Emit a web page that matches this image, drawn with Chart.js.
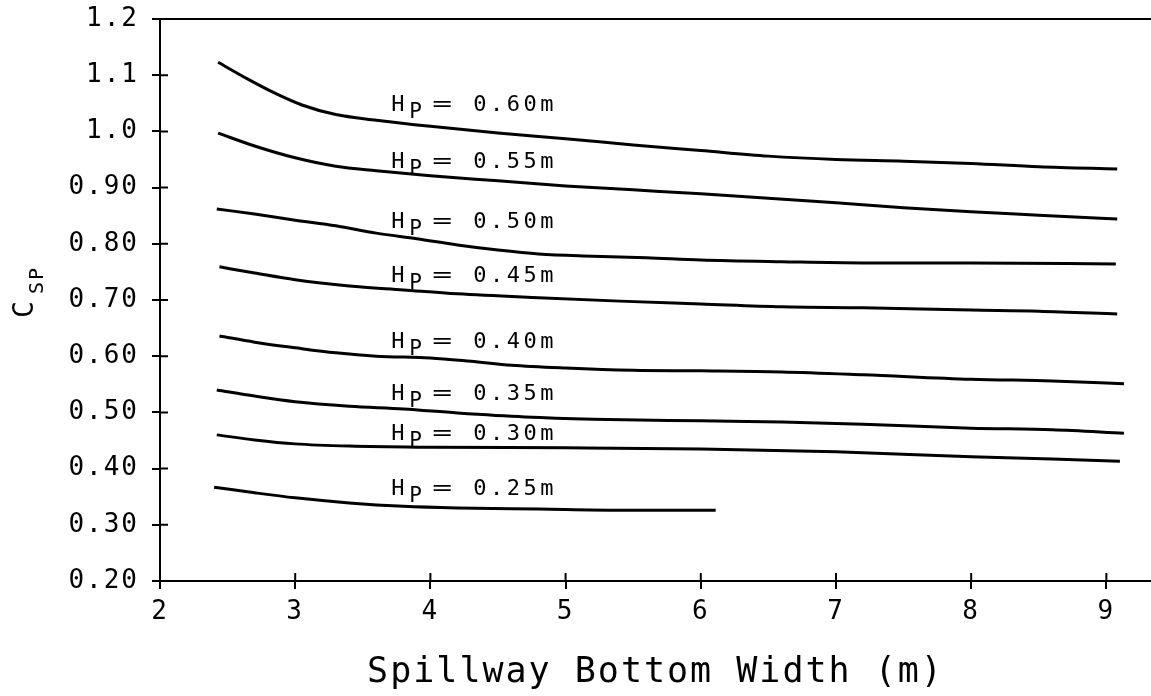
<!DOCTYPE html>
<html lang="en">
<head>
  <meta charset="UTF-8">
  <title>Csp vs Spillway Bottom Width</title>
  <script src="https://cdn.jsdelivr.net/npm/chart.js"></script>
  <style>
    body { margin: 0; background: #fff; }
    #wrap { width: 1151px; height: 696px; }
  </style>
</head>
<body>
  <div id="wrap"><canvas id="chart"></canvas></div>

  <script>
    // head values for each curve (m)
    const heads = ['0.60', '0.55', '0.50', '0.45', '0.40', '0.35', '0.30', '0.25'];

    // spillway bottom width (m) and Csp
    const w60 = [2.43, 2.65, 2.85, 3.05, 3.3, 3.6, 4.0, 4.5, 5.0, 5.5, 6.0, 6.5, 7.0, 7.5, 8.0, 8.5, 9.08];
    const c60 = [1.123, 1.093, 1.068, 1.047, 1.030, 1.020, 1.009, 0.997, 0.987, 0.976, 0.966, 0.956, 0.950, 0.947, 0.943, 0.937, 0.933];

    const w55 = [2.43, 2.7, 3.0, 3.3, 3.6, 4.0, 4.5, 5.0, 5.5, 6.0, 6.5, 7.0, 7.5, 8.0, 8.5, 9.08];
    const c55 = [0.997, 0.974, 0.953, 0.938, 0.930, 0.921, 0.912, 0.903, 0.896, 0.889, 0.881, 0.873, 0.864, 0.857, 0.851, 0.844];

    const w50 = [2.42, 2.7, 3.0, 3.3, 3.6, 3.9, 4.2, 4.5, 4.8, 5.2, 5.6, 6.0, 6.6, 7.2, 8.0, 9.07];
    const c50 = [0.862, 0.853, 0.842, 0.832, 0.819, 0.809, 0.798, 0.789, 0.782, 0.778, 0.775, 0.771, 0.768, 0.766, 0.766, 0.764];

    const w45 = [2.44, 2.7, 3.0, 3.4, 3.8, 4.2, 4.8, 5.4, 6.0, 6.6, 7.2, 8.0, 8.5, 9.08];
    const c45 = [0.759, 0.748, 0.736, 0.725, 0.718, 0.711, 0.704, 0.698, 0.693, 0.688, 0.686, 0.682, 0.680, 0.675];

    const w40 = [2.44, 2.7, 3.0, 3.3, 3.6, 4.0, 4.3, 4.6, 5.0, 5.5, 6.0, 6.6, 7.2, 8.0, 8.6, 9.13];
    const c40 = [0.636, 0.625, 0.615, 0.606, 0.600, 0.597, 0.591, 0.584, 0.579, 0.575, 0.574, 0.572, 0.567, 0.559, 0.556, 0.551];

    const w35 = [2.42, 2.7, 3.0, 3.4, 3.8, 4.2, 4.7, 5.2, 6.0, 6.6, 7.2, 8.0, 8.6, 9.13];
    const c35 = [0.540, 0.529, 0.519, 0.511, 0.506, 0.499, 0.492, 0.488, 0.485, 0.483, 0.479, 0.472, 0.469, 0.463];

    const w30 = [2.42, 2.7, 3.0, 3.4, 4.0, 5.0, 6.0, 7.0, 8.0, 8.6, 9.10];
    const c30 = [0.460, 0.451, 0.444, 0.440, 0.438, 0.437, 0.435, 0.430, 0.421, 0.417, 0.413];

    const w25 = [2.40, 2.7, 3.0, 3.4, 3.8, 4.2, 4.8, 5.4, 6.11];
    const c25 = [0.367, 0.357, 0.348, 0.339, 0.333, 0.330, 0.328, 0.326, 0.326];

    const xTicks = [2, 3, 4, 5, 6, 7, 8, 9];
    const yTicks = [0.2, 0.3, 0.4, 0.5, 0.6, 0.7, 0.8, 0.9, 1.0, 1.1, 1.2];

    // where the "Hp = ..." labels sit (data units, baseline)
    const labelX = 3.71;
    const labelY = [1.036, 0.935, 0.828, 0.732, 0.615, 0.522, 0.451, 0.353];

    const widths = [w60, w55, w50, w45, w40, w35, w30, w25];
    const csps = [c60, c55, c50, c45, c40, c35, c30, c25];

    const FONT = '"DejaVu Sans Mono", monospace';

    // crossing ticks, curve labels, rotated y title with subscript
    const decor = {
      id: 'decor',
      beforeUpdate(chart) { chart.ctx.letterSpacing = '2px'; },
      beforeDraw(chart) { chart.ctx.letterSpacing = '2px'; },
      afterDraw(chart) {
        const { ctx, chartArea: a } = chart;
        const x = chart.scales.x, y = chart.scales.y;
        ctx.save();
        ctx.strokeStyle = '#000';
        ctx.lineWidth = 2;
        ctx.beginPath();
        yTicks.forEach(v => {
          const py = y.getPixelForValue(v);
          ctx.moveTo(a.left, py); ctx.lineTo(a.left + 8, py);
        });
        xTicks.forEach(v => {
          const px = x.getPixelForValue(v);
          ctx.moveTo(px, a.bottom); ctx.lineTo(px, a.bottom - 8);
        });
        ctx.stroke();

        ctx.fillStyle = '#000';
        ctx.textAlign = 'left';
        ctx.textBaseline = 'alphabetic';
        heads.forEach((h, i) => {
          const px = x.getPixelForValue(labelX);
          const py = y.getPixelForValue(labelY[i]);
          ctx.letterSpacing = '0px';
          ctx.font = '22px ' + FONT;
          ctx.fillText('H', px, py);
          ctx.font = '21px ' + FONT;
          ctx.fillText('P', px + 18, py + 7);
          ctx.save();
          ctx.translate(px + 41, py);
          ctx.scale(1.5, 1);
          ctx.font = '22px ' + FONT;
          ctx.fillText('=', 0, 0);
          ctx.restore();
          ctx.letterSpacing = '3.5px';
          ctx.font = '22px ' + FONT;
          ctx.fillText(h + 'm', px + 82, py);
        });

        ctx.translate(33, 318);
        ctx.rotate(-Math.PI / 2);
        ctx.letterSpacing = '0px';
        ctx.font = '28px ' + FONT;
        ctx.fillText('C', 0, 0);
        ctx.font = '20px ' + FONT;
        ctx.letterSpacing = '2px';
        ctx.fillText('SP', 24, 10);
        ctx.restore();
      }
    };

    new Chart(document.getElementById('chart'), {
      type: 'line',
      data: {
        datasets: heads.map((h, i) => ({
          label: 'Hp = ' + h + 'm',
          data: widths[i].map((w, j) => ({ x: w, y: csps[i][j] })),
          borderColor: '#000',
          borderWidth: 3,
          pointRadius: 0,
          fill: false,
          cubicInterpolationMode: 'monotone'
        }))
      },
      options: {
        responsive: true,
        maintainAspectRatio: false,
        animation: false,
        layout: { padding: { top: 19, right: 0, left: 0, bottom: 0 } },
        plugins: { legend: { display: false }, tooltip: { enabled: false } },
        scales: {
          x: {
            type: 'linear',
            min: 2,
            max: 9.33,
            afterFit: s => { s.height = 115; s.paddingLeft = 0; s.paddingRight = 0; },
            afterBuildTicks: s => { s.ticks = xTicks.map(v => ({ value: v })); },
            border: { display: true, color: '#000', width: 2 },
            grid: { display: true, drawOnChartArea: false, color: '#000', tickColor: '#000', tickLength: 8, lineWidth: 2 },
            ticks: { autoSkip: false, maxRotation: 0, padding: 8, color: '#000', font: { family: FONT, size: 26 }, callback: v => String(v) },
            title: { display: true, text: 'Spillway Bottom Width (m)', color: '#000', font: { family: FONT, size: 35, lineHeight: 1 }, padding: { top: 0, bottom: 6 } }
          },
          y: {
            min: 0.2,
            max: 1.2,
            afterFit: s => { s.width = 160; s.paddingTop = 0; s.paddingBottom = 0; },
            afterBuildTicks: s => { s.ticks = yTicks.map(v => ({ value: v })); },
            border: { display: true, color: '#000', width: 2 },
            grid: {
              display: true,
              drawOnChartArea: true,
              color: c => (c.tick && Math.abs(c.tick.value - 1.2) < 1e-6) ? '#000' : 'rgba(0,0,0,0)',
              tickColor: '#000',
              tickLength: 8,
              lineWidth: 2
            },
            ticks: {
              autoSkip: false,
              padding: 13,
              color: '#000',
              font: { family: FONT, size: 26 },
              callback: v => v >= 0.999 ? v.toFixed(1) : v.toFixed(2)
            },
            title: { display: false }
          }
        }
      },
      plugins: [decor]
    });
  </script>
</body>
</html>
